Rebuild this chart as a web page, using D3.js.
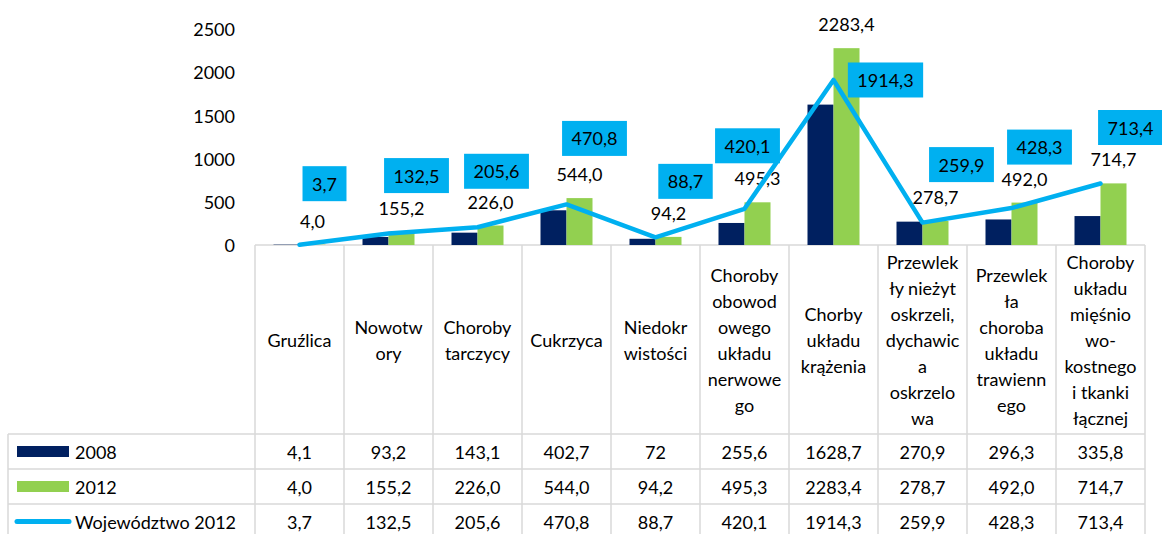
<!DOCTYPE html>
<html lang="pl">
  <head>
    <meta charset="UTF-8" />
    <title>Zachorowalność</title>
    <script src="https://cdn.jsdelivr.net/npm/d3@7"></script>
    <style>
      body { margin: 0; background: #fff; }
      svg text { font-family: Lato, "Open Sans", sans-serif; font-size: 18px; fill: #000; }
    </style>
  </head>
  <body>
    <script>
      // data
      var categories = [
        ["Gruźlica"],
        ["Nowotw", "ory"],
        ["Choroby", "tarczycy"],
        ["Cukrzyca"],
        ["Niedokr", "wistości"],
        ["Choroby", "obowod", "owego", "układu", "nerwowe", "go"],
        ["Chorby", "układu", "krążenia"],
        ["Przewlek", "ły nieżyt", "oskrzeli,", "dychawic", "a", "oskrzelo", "wa"],
        ["Przewlek", "ła", "choroba", "układu", "trawienn", "ego"],
        ["Choroby", "układu", "mięśnio", "wo-", "kostnego", "i tkanki", "łącznej"]
      ];
      var seriesNames = ["2008", "2012", "Województwo 2012"];
      var values2008 = [4.1, 93.2, 143.1, 402.7, 72, 255.6, 1628.7, 270.9, 296.3, 335.8];
      var values2012 = [4.0, 155.2, 226.0, 544.0, 94.2, 495.3, 2283.4, 278.7, 492.0, 714.7];
      var valuesWoj = [3.7, 132.5, 205.6, 470.8, 88.7, 420.1, 1914.3, 259.9, 428.3, 713.4];
      var yTicks = [0, 500, 1000, 1500, 2000, 2500];

      // manual placement of the blue labels (box centre relative to the point)
      var labelNudge = [[25, -61], [28, -58], [19, -56], [28, -66], [30, -56],
                        [3, -63], [52, 0], [39, -58], [28, -61], [30, -56]];

      var colNavy = "#002060", colGreen = "#92D050", colBlue = "#00B0F0", colGrid = "#D9D9D9";

      var pl = d3.formatLocale({ decimal: ",", thousands: "", grouping: [3], currency: ["", " zł"] });
      var fmt1 = pl.format(".1f");
      var fmtTrim = pl.format(".1~f");

      var W = 1162, H = 534;
      var svg = d3.select("body").append("svg").attr("width", W).attr("height", H);

      var x = d3.scaleBand().domain(d3.range(categories.length)).range([255, 1145]).padding(0);
      var y = d3.scaleLinear().domain([0, 2500]).range([245, 29.5]);
      var barW = 26;
      var cx = function (i) { return x(i) + x.bandwidth() / 2; };

      // y axis labels only
      var yAxis = d3.axisLeft(y).tickValues(yTicks).tickSize(0).tickPadding(0).tickFormat(d3.format("d"));
      var ya = svg.append("g").attr("transform", "translate(235,0)").call(yAxis);
      ya.select(".domain").remove();
      ya.selectAll("text").attr("font-family", null).attr("font-size", null).attr("dy", "0.35em");

      // table lines
      var rowTops = [434, 469, 504, 539];
      var grid = svg.append("g").attr("stroke", colGrid).attr("stroke-width", 1.5);
      grid.append("line").attr("x1", 255).attr("x2", 1145).attr("y1", 245).attr("y2", 245);
      rowTops.forEach(function (ry) {
        grid.append("line").attr("x1", 8).attr("x2", 1145).attr("y1", ry).attr("y2", ry);
      });
      grid.append("line").attr("x1", 8).attr("x2", 8).attr("y1", 434).attr("y2", 539);
      d3.range(categories.length + 1).forEach(function (i) {
        var lx = i < categories.length ? x(i) : x.range()[1];
        grid.append("line").attr("x1", lx).attr("x2", lx).attr("y1", 245).attr("y2", 539);
      });

      // bars
      svg.append("g").selectAll("rect").data(values2008).enter().append("rect")
        .attr("x", function (d, i) { return cx(i) - barW; })
        .attr("y", function (d) { return y(d); })
        .attr("width", barW)
        .attr("height", function (d) { return y(0) - y(d); })
        .attr("fill", colNavy);

      svg.append("g").selectAll("rect").data(values2012).enter().append("rect")
        .attr("x", function (d, i) { return cx(i); })
        .attr("y", function (d) { return y(d); })
        .attr("width", barW)
        .attr("height", function (d) { return y(0) - y(d); })
        .attr("fill", colGreen);

      // 2012 labels
      svg.append("g").selectAll("text").data(values2012).enter().append("text")
        .attr("x", function (d, i) { return cx(i) + barW / 2; })
        .attr("y", function (d) { return y(d) - 24; })
        .attr("text-anchor", "middle")
        .attr("dominant-baseline", "central")
        .text(function (d) { return fmt1(d); });

      // line
      var line = d3.line().x(function (d, i) { return cx(i); }).y(function (d) { return y(d); });
      svg.append("path").datum(valuesWoj)
        .attr("d", line)
        .attr("fill", "none")
        .attr("stroke", colBlue)
        .attr("stroke-width", 4.5)
        .attr("stroke-linecap", "round")
        .attr("stroke-linejoin", "round");

      // line labels in boxes
      var lbl = svg.append("g").selectAll("g").data(valuesWoj).enter().append("g")
        .attr("transform", function (d, i) {
          return "translate(" + (cx(i) + labelNudge[i][0]) + "," + (y(d) + labelNudge[i][1]) + ")";
        });
      lbl.append("rect").attr("fill", colBlue);
      lbl.append("text")
        .attr("text-anchor", "middle")
        .attr("dominant-baseline", "central")
        .text(function (d) { return fmt1(d); });
      lbl.each(function () {
        var g = d3.select(this);
        var tw = g.select("text").node().getComputedTextLength();
        g.select("rect").attr("x", -tw / 2 - 9.5).attr("y", -17.5).attr("width", tw + 19).attr("height", 35);
      });

      // category header cells
      var lh = 26;
      var head = svg.append("g").selectAll("text").data(categories).enter().append("text")
        .attr("text-anchor", "middle")
        .attr("x", function (d, i) { return cx(i); });
      head.each(function (d) {
        var t = d3.select(this);
        d.forEach(function (s, k) {
          t.append("tspan")
            .attr("x", t.attr("x"))
            .attr("y", 340 + (k - (d.length - 1) / 2) * lh)
            .attr("dominant-baseline", "central")
            .text(s);
        });
      });

      // data rows
      var rows = [
        { name: seriesNames[0], vals: values2008, f: fmtTrim },
        { name: seriesNames[1], vals: values2012, f: fmt1 },
        { name: seriesNames[2], vals: valuesWoj, f: fmt1 }
      ];
      rows.forEach(function (r, ri) {
        var ry = rowTops[ri] + 17.5;
        svg.append("g").selectAll("text").data(r.vals).enter().append("text")
          .attr("x", function (d, i) { return cx(i); })
          .attr("y", ry)
          .attr("text-anchor", "middle")
          .attr("dominant-baseline", "central")
          .text(function (d) { return r.f(d); });
        svg.append("text").attr("x", 75).attr("y", ry)
          .attr("dominant-baseline", "central").text(r.name);
      });

      // legend keys
      svg.append("rect").attr("x", 17).attr("y", rowTops[0] + 12).attr("width", 52).attr("height", 11).attr("fill", colNavy);
      svg.append("rect").attr("x", 17).attr("y", rowTops[1] + 12).attr("width", 52).attr("height", 11).attr("fill", colGreen);
      svg.append("line").attr("x1", 17).attr("x2", 69).attr("y1", rowTops[2] + 17.5).attr("y2", rowTops[2] + 17.5)
        .attr("stroke", colBlue).attr("stroke-width", 5).attr("stroke-linecap", "round");
    </script>
  </body>
</html>
